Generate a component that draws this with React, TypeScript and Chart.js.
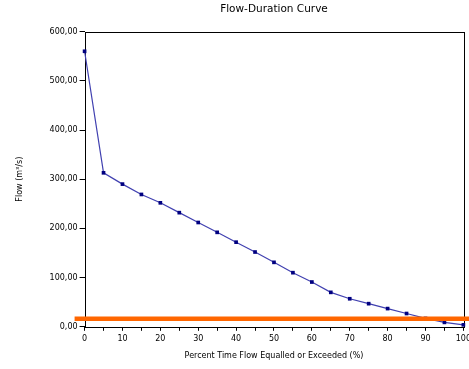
import React, { useEffect, useRef } from "react";
import { Chart, registerables } from "chart.js";

Chart.register(...registerables);

const percentExceeded = [0, 5, 10, 15, 20, 25, 30, 35, 40, 45, 50, 55, 60, 65, 70, 75, 80, 85, 90, 95, 100];
const flowValues = [560, 313, 290, 269, 252, 232, 212, 192, 172, 152, 131, 110, 91, 70, 57, 47, 37, 27, 17, 9, 4];
const thresholdFlow = 16.5;
const chartTitle = "Flow-Duration Curve";
const xTitle = "Percent Time Flow Equalled or Exceeded (%)";
const yTitle = "Flow (m\u00B3/s)";

const FONT = "'DejaVu Sans', sans-serif";

const frameAndThreshold = {
  id: "frameAndThreshold",
  afterDatasetsDraw(chart: any) {
    const { ctx, chartArea, scales } = chart;
    ctx.save();
    const y = scales.y.getPixelForValue(thresholdFlow);
    ctx.strokeStyle = "#ff6600";
    ctx.lineWidth = 4.5;
    ctx.beginPath();
    ctx.moveTo(chartArea.left - 10, y);
    ctx.lineTo(chart.width, y);
    ctx.stroke();
    ctx.restore();
  },
  beforeDatasetsDraw(chart: any) {
    const { ctx, chartArea } = chart;
    ctx.save();
    ctx.strokeStyle = "#000000";
    ctx.lineWidth = 1;
    ctx.strokeRect(
      Math.round(chartArea.left) + 0.5,
      Math.round(chartArea.top) + 0.5,
      Math.round(chartArea.right - chartArea.left),
      Math.round(chartArea.bottom - chartArea.top)
    );
    ctx.restore();
  },
};

export default function App() {
  const ref = useRef<HTMLCanvasElement>(null);
  useEffect(() => {
    if (!ref.current) return;
    const chart = new Chart(ref.current, {
      type: "line",
      data: {
        datasets: [
          {
            data: percentExceeded.map((x, i) => ({ x, y: flowValues[i] })),
            borderColor: "#4040b0",
            borderWidth: 1.2,
            pointStyle: "rect",
            pointRadius: 2.6,
            pointBackgroundColor: "#000080",
            pointBorderColor: "#000080",
            pointBorderWidth: 0,
            tension: 0,
            clip: false,
          },
        ],
      },
      options: {
        animation: false,
        responsive: false,
        layout: { padding: { left: 15, right: 0, top: 3, bottom: 8 } },
        plugins: {
          legend: { display: false },
          tooltip: { enabled: false },
          title: {
            display: true,
            text: chartTitle,
            color: "#000",
            fullSize: false,
            font: { family: FONT, size: 10.5, weight: "normal" },
            padding: { top: 0, bottom: 16 },
          },
        },
        scales: {
          x: {
            type: "linear",
            min: 0,
            max: 100,
            border: { display: false },
            grid: {
              display: true,
              drawOnChartArea: false,
              drawTicks: true,
              tickLength: 4,
              color: "#000",
            },
            ticks: {
              stepSize: 5,
              autoSkip: false,
              maxRotation: 0,
              color: "#000",
              padding: 3,
              font: { family: FONT, size: 8 },
              callback: (v: any) => (Number(v) % 10 === 0 ? String(v) : ""),
            },
            title: {
              display: true,
              text: xTitle,
              color: "#000",
              font: { family: FONT, size: 8 },
              padding: { top: 5, bottom: 0 },
            },
          },
          y: {
            type: "linear",
            min: 0,
            max: 600,
            border: { display: false },
            grid: {
              display: true,
              drawOnChartArea: false,
              drawTicks: true,
              tickLength: 5,
              color: "#000",
            },
            ticks: {
              stepSize: 100,
              color: "#000",
              padding: 2,
              font: { family: FONT, size: 8 },
              callback: (v: any) => Number(v).toFixed(2).replace(".", ","),
            },
            title: {
              display: true,
              text: yTitle,
              color: "#000",
              font: { family: FONT, size: 8 },
              padding: { top: 0, bottom: 23 },
            },
          },
        },
      },
      plugins: [frameAndThreshold],
    });
    return () => chart.destroy();
  }, []);
  return (
    <div
      style={{
        position: "fixed",
        left: 0,
        top: 0,
        width: 469,
        height: 369,
        overflow: "hidden",
        background: "#fff",
      }}
    >
      <canvas ref={ref} width={474} height={369} style={{ display: "block" }} />
    </div>
  );
}
